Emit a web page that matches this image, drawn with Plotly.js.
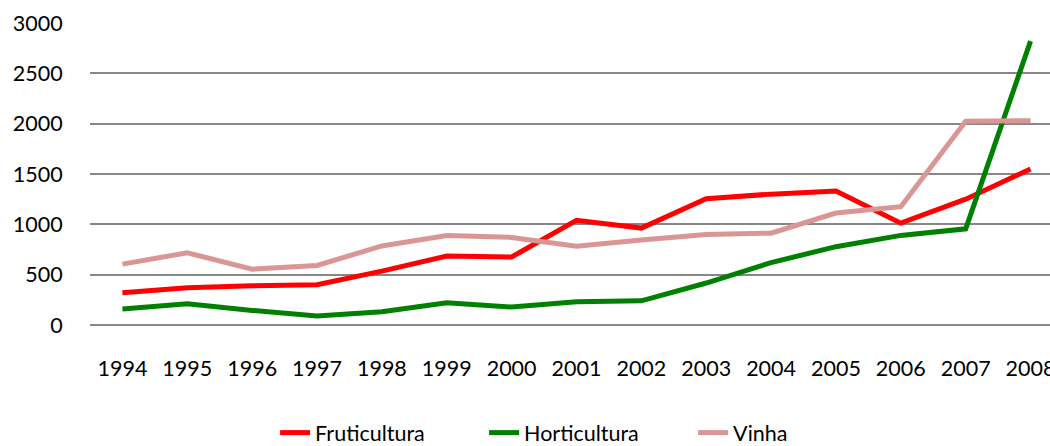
<!DOCTYPE html>
<html>
<head>
<meta charset="utf-8">
<script src="https://cdn.plot.ly/plotly-3.0.1.min.js"></script>
<style>html,body{margin:0;padding:0;background:#fff;}#chart{width:1050px;height:446px;}</style>
</head>
<body>
<div id="chart"></div>
<script>
const years = ["1994","1995","1996","1997","1998","1999","2000","2001","2002","2003","2004","2005","2006","2007","2008"];
const fruticultura = [320, 370, 390, 400, 535, 685, 675, 1040, 963, 1255, 1300, 1330, 1012, 1250, 1550];
const horticultura = [160, 212, 145, 90, 132, 222, 178, 230, 240, 417, 620, 778, 890, 955, 2820];
const vinha = [605, 718, 555, 592, 785, 890, 870, 782, 845, 900, 912, 1112, 1175, 2025, 2030];
const yTicks = [0, 500, 1000, 1500, 2000, 2500, 3000];

const font = {family: "Lato, 'Open Sans', sans-serif", size: 21.5, color: "#000"};
const mk = (name, y, color) => ({
  x: years, y: y, name: name, type: "scatter", mode: "lines",
  line: {color: color, width: 5}
});
const data = [
  mk("Fruticultura", fruticultura, "#ff0000"),
  mk("Horticultura", horticultura, "#008000"),
  mk("Vinha", vinha, "#d99694")
];
const layout = {
  width: 1050, height: 446,
  margin: {l: 90, r: 0, t: 23, b: 121},
  paper_bgcolor: "#fff", plot_bgcolor: "#fff",
  font: font,
  showlegend: true,
  legend: {orientation: "h", xref: "container", yref: "container", x: 0.262, xanchor: "left", y: 0.03, yanchor: "middle",
    font: font, entrywidth: 164, entrywidthmode: "pixels", tracegroupgap: 0},
  xaxis: {type: "category", range: [-0.5, 14.3], showgrid: false, zeroline: false, showline: false,
    ticks: "outside", ticklen: 24, tickcolor: "rgba(0,0,0,0)", tickfont: font, fixedrange: true},
  yaxis: {range: [0, 3000], tickvals: yTicks, ticktext: yTicks.map(String), showgrid: true, gridcolor: "#878787", gridwidth: 1.7,
    zeroline: true, zerolinecolor: "#878787", zerolinewidth: 1.7, showline: false,
    ticks: "outside", ticklen: 22, tickcolor: "rgba(0,0,0,0)", tickfont: font, fixedrange: true}
};
Plotly.newPlot("chart", data, layout, {displayModeBar: false, staticPlot: true});
</script>
</body>
</html>
